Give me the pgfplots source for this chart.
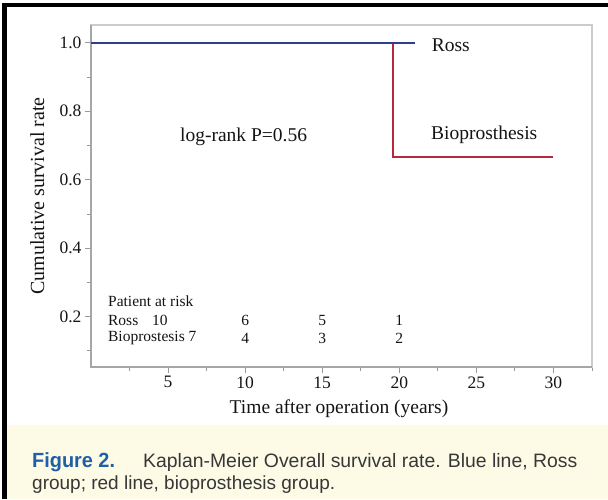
\documentclass[border=0pt]{standalone}
\usepackage{fontspec}
\setmainfont{Liberation Serif}
\newfontfamily\capfont{Liberation Sans}
\newfontfamily\figfont[FakeStretch=0.97]{Liberation Sans}
\usepackage{xcolor}
\usepackage{tikz}
\usepackage{pgfplots}
\pgfplotsset{compat=1.18}

\definecolor{rossblue}{HTML}{2C3E8C}
\definecolor{biored}{HTML}{B22A3C}
\definecolor{capbg}{HTML}{FDFBE6}
\definecolor{figblue}{HTML}{1F5FAA}
\definecolor{txt}{HTML}{141414}

\begin{document}
\begin{tikzpicture}[x=1pt,y=1pt]
\path[use as bounding box] (0,0) rectangle (608,499);
% caption panel and frame
\fill[capbg] (7,0) rectangle (608,74);
\fill[black] (1.5,0) rectangle (7,495.5);
\fill[black] (1.5,492) rectangle (608,495.5);

\begin{axis}[
  at={(91pt,132pt)}, anchor=south west,
  scale only axis,
  width=501pt, height=342pt,
  xmin=0, xmax=32.5,
  ymin=0.053, ymax=1.052,
  xtick={5,10,15,20,25,30},
  minor xtick={2.5,7.5,12.5,17.5,22.5,27.5,32.5},
  ytick={0.2,0.4,0.6,0.8,1.0},
  minor ytick={0.1,0.3,0.5,0.7,0.9},
  tick pos=left,
  tick align=outside,
  major tick length=6pt,
  minor tick length=4pt,
  every tick/.style={gray!80, line width=0.9pt},
  axis line style={gray!40, line width=1.4pt},
  /pgf/number format/assume math mode=true,
  tick label style={font=\fontsize{17.5}{17.5}\selectfont, text=txt},
  yticklabel style={/pgf/number format/.cd, fixed, fixed zerofill, precision=1},
  xlabel={Time after operation (years)},
  ylabel={Cumulative survival rate},
  xlabel style={font=\fontsize{19.5}{19.5}\selectfont, text=txt, at={(axis description cs:0.495,-0.123)}, anchor=center},
  ylabel style={font=\fontsize{20}{20}\selectfont, text=txt, at={(axis description cs:-0.107,0.5)}, anchor=center},
  clip=false
]
% darker left and bottom axis lines
\draw[gray!70, line width=1.4pt] (rel axis cs:0,1) -- (rel axis cs:0,0) -- (rel axis cs:1,0);

\addplot[biored, line width=1.8pt] coordinates {(0,1) (19.6,1) (19.6,0.667) (30,0.667)};
\addplot[rossblue, line width=1.8pt] coordinates {(0,1) (21,1)};

\node[anchor=west, inner sep=0, font=\fontsize{19.5}{19.5}\selectfont, text=txt] at (axis cs:22.1,0.994) {Ross};
\node[anchor=west, inner sep=0, font=\fontsize{19.5}{19.5}\selectfont, text=txt] at (axis cs:22.05,0.731) {Bioprosthesis};
\node[anchor=west, inner sep=0, font=\fontsize{19.5}{19.5}\selectfont, text=txt] at (axis cs:5.77,0.725) {log-rank P=0.56};

\node[anchor=west, inner sep=0, font=\fontsize{15.5}{15.5}\selectfont, text=txt] at (axis cs:1.1,0.245) {Patient at risk};
\node[anchor=west, inner sep=0, font=\fontsize{15.5}{15.5}\selectfont, text=txt] at (axis cs:1.1,0.19) {Ross};
\node[anchor=west, inner sep=0, font=\fontsize{15.5}{15.5}\selectfont, text=txt] at (axis cs:3.95,0.19) {10};
\node[font=\fontsize{15.5}{15.5}\selectfont, text=txt] at (axis cs:10,0.19) {6};
\node[font=\fontsize{15.5}{15.5}\selectfont, text=txt] at (axis cs:15,0.19) {5};
\node[font=\fontsize{15.5}{15.5}\selectfont, text=txt] at (axis cs:20,0.19) {1};
\node[anchor=west, inner sep=0, font=\fontsize{15.5}{15.5}\selectfont, text=txt] at (axis cs:1.1,0.137) {Bioprostesis 7};
\node[font=\fontsize{15.5}{15.5}\selectfont, text=txt] at (axis cs:10,0.137) {4};
\node[font=\fontsize{15.5}{15.5}\selectfont, text=txt] at (axis cs:15,0.137) {3};
\node[font=\fontsize{15.5}{15.5}\selectfont, text=txt] at (axis cs:20,0.137) {2};
\end{axis}

% caption text
\node[anchor=base west, inner sep=0, font=\figfont\bfseries\fontsize{20.5}{20.5}\selectfont, text=figblue] at (32,32) {Figure 2.};
\node[anchor=base west, inner sep=0, font=\capfont\fontsize{19.4}{19.4}\selectfont, text=txt!85] at (143,32) {Kaplan-Meier Overall survival rate. Blue line, Ross};
\node[anchor=base west, inner sep=0, font=\capfont\fontsize{19}{19}\selectfont, text=txt!85] at (32,10) {group; red line, bioprosthesis group.};
\end{tikzpicture}
\end{document}
